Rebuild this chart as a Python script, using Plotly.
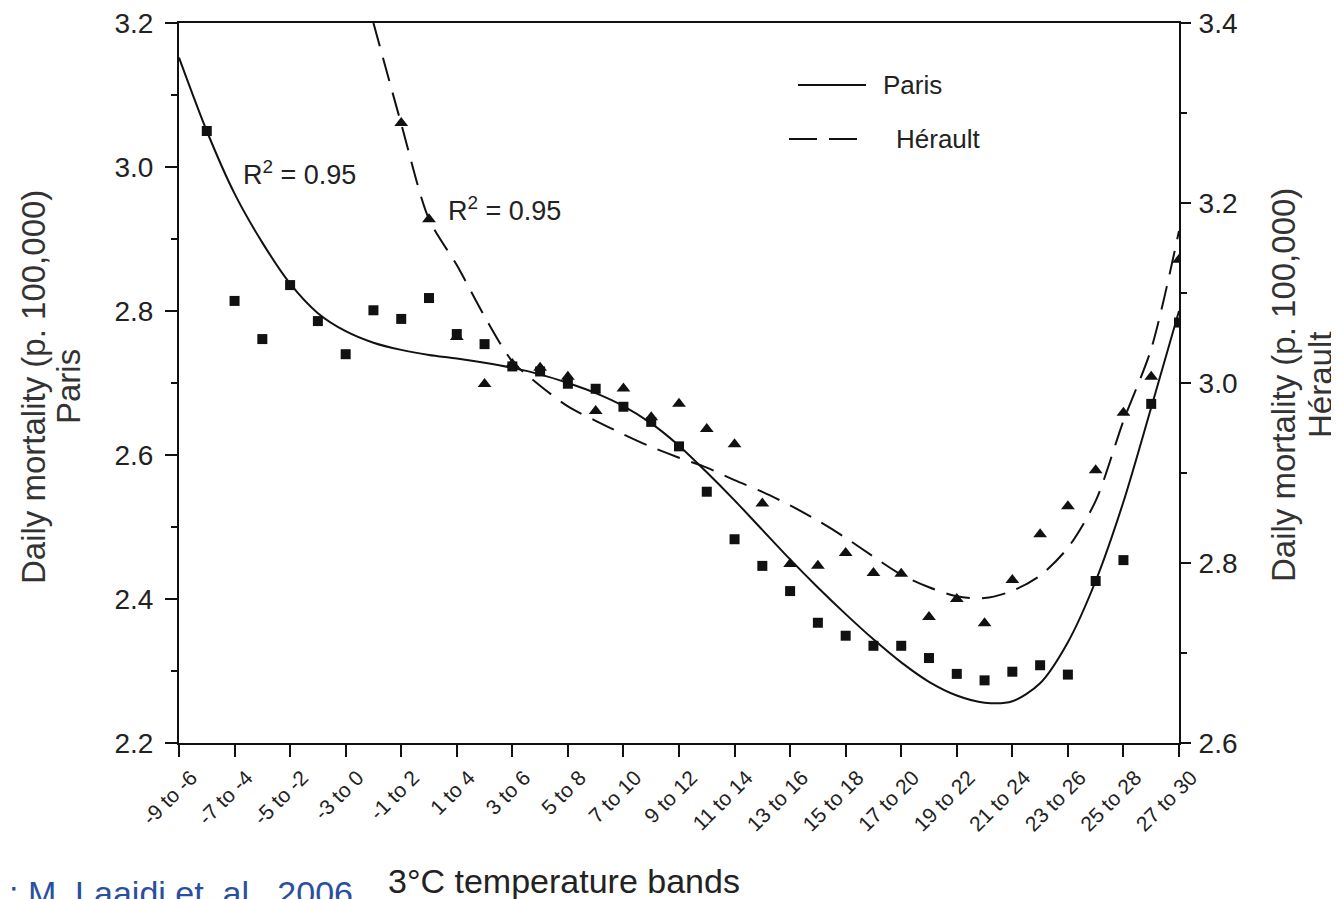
import plotly.graph_objects as go

# ---- data (band lower bound, degC) ----
band_ticks = list(range(-9, 28, 2))
band_labels = [f"{t} to {t + 3}" for t in band_ticks]

paris_t = list(range(-8, 28))
paris_obs = [3.050, 2.814, 2.761, 2.836, 2.786, 2.740, 2.801, 2.789, 2.818, 2.768,
             2.754, 2.723, 2.716, 2.699, 2.692, 2.667, 2.646, 2.612, 2.549, 2.483,
             2.446, 2.411, 2.367, 2.349, 2.335, 2.335, 2.318, 2.296, 2.287, 2.299,
             2.308, 2.295, 2.425, 2.454, 2.671, 2.784]

herault_t = list(range(-1, 28))
herault_obs = [3.289, 3.182, 3.051, 2.999, 3.021, 3.017, 3.007, 2.969, 2.994, 2.962,
               2.977, 2.949, 2.932, 2.866, 2.799, 2.797, 2.811, 2.789, 2.788, 2.740,
               2.760, 2.733, 2.781, 2.832, 2.863, 2.903, 2.967, 3.007, 3.137]

paris_fit_t = list(range(-9, 28))
paris_fit = [3.152, 3.050, 2.963, 2.895, 2.838, 2.797, 2.772, 2.756, 2.746, 2.739,
             2.734, 2.728, 2.721, 2.712, 2.700, 2.686, 2.668, 2.644, 2.613, 2.576,
             2.537, 2.496, 2.455, 2.416, 2.379, 2.344, 2.312, 2.285, 2.266, 2.256,
             2.258, 2.283, 2.340, 2.425, 2.535, 2.666, 2.800]

herault_fit_t = list(range(-2, 28))
herault_fit = [3.400, 3.288, 3.182, 3.131, 3.074, 3.024, 2.997, 2.974, 2.958, 2.943,
               2.929, 2.917, 2.906, 2.892, 2.879, 2.864, 2.847, 2.828, 2.807, 2.787,
               2.773, 2.763, 2.761, 2.769, 2.786, 2.817, 2.869, 2.958, 3.038, 3.169]

FONT = "Arial, Liberation Sans, Helvetica, sans-serif"
INK = "#111111"
TXT = "#222222"

fig = go.Figure()
fig.add_trace(go.Scatter(x=paris_fit_t, y=paris_fit, mode="lines",
                         line=dict(color=INK, width=2, shape="spline", smoothing=0.8),
                         showlegend=False, hoverinfo="skip"))
fig.add_trace(go.Scatter(x=herault_fit_t, y=herault_fit, mode="lines", yaxis="y2",
                         line=dict(color=INK, width=2, dash="24px,12px", shape="spline", smoothing=0.8),
                         showlegend=False, hoverinfo="skip"))
fig.add_trace(go.Scatter(x=paris_t, y=paris_obs, mode="markers",
                         marker=dict(symbol="square", size=10, color=INK),
                         showlegend=False))
fig.add_trace(go.Scatter(x=herault_t, y=herault_obs, mode="markers", yaxis="y2",
                         marker=dict(symbol="triangle-up", size=12, color=INK),
                         showlegend=False))

# page body has an 8px margin; plot area on screen: x 178..1178, y 22..742
W, H = 1339, 899
PW, PH = 1000, 720
L, T = 171, 15
R, B = W - L - PW, H - T - PH
SX0, SY0 = 178, 22


def px(x):
    return (x - SX0) / PW


def py(y):
    return (SY0 + PH - y) / PH


axis_common = dict(showline=True, linecolor=INK, linewidth=2, ticks="outside",
                   tickcolor=INK, tickwidth=2, showgrid=False, zeroline=False,
                   ticklabeloverflow="allow",
                   tickfont=dict(family=FONT, size=28, color=TXT))

fig.update_layout(
    width=W, height=H,
    margin=dict(l=L, r=R, t=T, b=B, autoexpand=False),
    paper_bgcolor="white", plot_bgcolor="white",
    xaxis=dict(range=[-9, 27], tickvals=band_ticks, ticktext=band_labels,
               tickangle=-45, ticklen=12, mirror=True,
               ticklabelshift=12, ticklabelstandoff=0, ticklabeloverflow="allow",
               showline=True, linecolor=INK, linewidth=2, ticks="outside",
               tickcolor=INK, tickwidth=2, showgrid=False, zeroline=False,
               tickfont=dict(family=FONT, size=21, color=TXT)),
    yaxis=dict(range=[2.2, 3.2], dtick=0.2, tick0=2.2, tickformat=".1f", ticklen=12,
               ticklabelstandoff=6,
               minor=dict(dtick=0.1, ticklen=6, ticks="outside", tickcolor=INK, tickwidth=2, showgrid=False),
               **axis_common),
    yaxis2=dict(range=[2.6, 3.4], dtick=0.2, tick0=2.6, tickformat=".1f", ticklen=10,
                overlaying="y", side="right", ticklabelstandoff=2,
                minor=dict(dtick=0.1, ticklen=6, ticks="outside", tickcolor=INK, tickwidth=2, showgrid=False),
                **axis_common),
)

title_font = dict(family=FONT, size=33, color="#333")
ann = [
    dict(x=px(32), y=py(386), text="Daily mortality (p. 100,000)", textangle=-90, font=title_font),
    dict(x=px(67), y=py(386), text="Paris", textangle=-90, font=title_font),
    dict(x=px(1282), y=py(384), text="Daily mortality (p. 100,000)", textangle=-90, font=title_font),
    dict(x=px(1319), y=py(384), text="Hérault", textangle=-90, font=title_font),
    dict(x=px(563), y=py(880), text="3°C temperature bands", font=dict(family=FONT, size=34, color=TXT)),
    dict(x=px(240), y=py(172), text="R<sup>2</sup> = 0.95", xanchor="left", font=dict(family=FONT, size=27, color=TXT)),
    dict(x=px(445), y=py(208), text="R<sup>2</sup> = 0.95", xanchor="left", font=dict(family=FONT, size=27, color=TXT)),
    dict(x=px(880), y=py(84), text="Paris", xanchor="left", font=dict(family=FONT, size=26, color=TXT)),
    dict(x=px(893), y=py(138), text="Hérault", xanchor="left", font=dict(family=FONT, size=26, color=TXT)),
    dict(x=px(6), y=py(871), text=": M. Laaidi et. al., 2006", xanchor="left", yanchor="top",
         font=dict(family=FONT, size=34, color="#2b4fa0")),
]
for a in ann:
    a.setdefault("xanchor", "center")
    a.setdefault("yanchor", "middle")
    a.update(xref="paper", yref="paper", showarrow=False)
fig.update_layout(annotations=ann)

fig.update_layout(shapes=[
    dict(type="line", xref="paper", yref="paper", x0=px(797), x1=px(865), y0=py(84), y1=py(84),
         line=dict(color=INK, width=2)),
    dict(type="line", xref="paper", yref="paper", x0=px(788), x1=px(862), y0=py(138), y1=py(138),
         line=dict(color=INK, width=2, dash="28px,12px")),
])

fig.write_html("out.html")
